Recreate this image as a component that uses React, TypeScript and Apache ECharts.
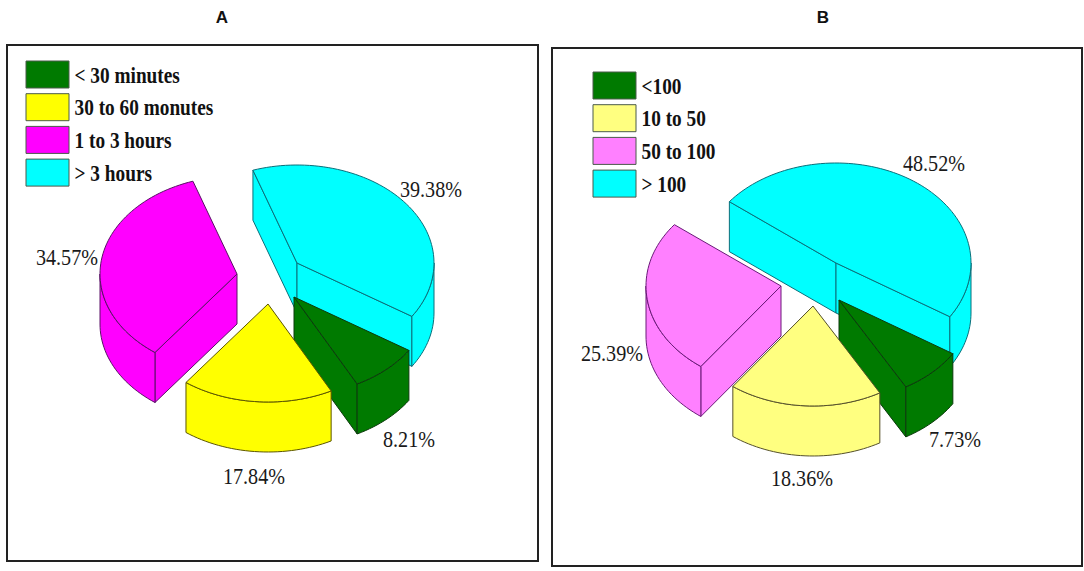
import React, { useEffect, useRef } from "react";
import * as echarts from "echarts";

const namesA = ["< 30 minutes", "30 to 60 monutes", "1 to 3 hours", "> 3 hours"];
const valuesA = [8.21, 17.84, 34.57, 39.38];
const colorsA = ["#007a00", "#ffff00", "#ff00ff", "#00ffff"];
const strokesA = ["#0c3a0c", "#5c5600", "#5a1066", "#0b6f7a"];
const centersA = [[294, 297], [268, 304], [237, 274], [297, 263]];
const labelPosA = [[409, 439], [254, 476], [67, 257], [431, 189]];
const startA = 33;

const namesB = ["<100", "10 to 50", "50 to 100", "> 100"];
const valuesB = [7.73, 18.36, 25.39, 48.52];
const colorsB = ["#007a00", "#ffff80", "#ff80ff", "#00ffff"];
const strokesB = ["#0c3a0c", "#55502a", "#6a1a78", "#0b6f7a"];
const centersB = [[839, 300], [813, 306], [781, 286], [836, 263]];
const labelPosB = [[955, 439], [802, 478], [612, 353], [934, 163]];
const startB = 32.5;

const drawOrder = [3, 2, 0, 1];
const RX_A = 137;
const RX_B = 135;
const RY_A = 98;
const RY_B = 100;
const DEPTH = 50;

function makeSeries(
  values: number[], names: string[], colors: string[], strokes: string[],
  centers: number[][], labels: number[][], start: number, rx: number, ry: number
) {
  const starts: number[] = [];
  let acc = start;
  values.forEach((v) => { starts.push(acc); acc += v * 3.6; });
  const rad = (d: number) => (d * Math.PI) / 180;
  return {
    type: "custom",
    coordinateSystem: "none",
    silent: true,
    data: drawOrder.map((i) => ({ value: values[i], name: names[i] })),
    renderItem: (params: any, api: any) => {
      const i = drawOrder[params.dataIndex];
      const sweep = api.value(0) * 3.6;
      const a0 = starts[i];
      const a1 = a0 + sweep;
      const [cx, cy] = centers[i];
      const pt = (a: number, dz = 0) => [cx + rx * Math.cos(rad(a)), cy + ry * Math.sin(rad(a)) + dz];
      const arc = (from: number, to: number, dz = 0) => {
        const out: number[][] = [];
        const n = Math.max(2, Math.ceil(Math.abs(to - from) / 2));
        for (let k = 0; k <= n; k++) out.push(pt(from + ((to - from) * k) / n, dz));
        return out;
      };
      const style = { fill: colors[i], stroke: strokes[i], lineWidth: 1, lineJoin: "round" };
      const children: any[] = [];
      const radial = (a: number) => {
        const p = pt(a);
        children.push({
          type: "polygon",
          shape: { points: [[cx, cy], p, [p[0], p[1] + DEPTH], [cx, cy + DEPTH]] },
          style,
        });
      };
      if (Math.sin(rad(a0 - 90)) > 0) radial(a0);
      if (Math.sin(rad(a1 + 90)) > 0) radial(a1);
      // outer wall: front half of the ellipse only
      for (const [lo, hi] of [[0, 180], [360, 540]]) {
        const from = Math.max(a0, lo);
        const to = Math.min(a1, hi);
        if (to > from) {
          children.push({
            type: "polygon",
            shape: { points: [...arc(from, to), ...arc(to, from, DEPTH)] },
            style,
          });
        }
      }
      children.push({ type: "polygon", shape: { points: [[cx, cy], ...arc(a0, a1)] }, style });
      children.push({
        type: "text",
        x: labels[i][0],
        y: labels[i][1],
        scaleX: 0.84,
        style: {
          text: api.value(0).toFixed(2) + "%",
          fontFamily: "Liberation Serif",
          fontSize: 24,
          fill: "#1a1a1a",
          align: "center",
          verticalAlign: "middle",
        },
      });
      return { type: "group", children };
    },
  };
}

function legend(names: string[], colors: string[], x: number, y: number) {
  const out: any[] = [];
  names.forEach((n, i) => {
    const top = y + i * 32.7;
    out.push({
      type: "rect",
      shape: { x, y: top, width: 43, height: 27 },
      style: { fill: colors[i], stroke: "#4a5a4a", lineWidth: 1 },
    });
    out.push({
      type: "text",
      x: x + 48.5,
      y: top + 14,
      scaleX: 0.84,
      style: {
        text: n,
        fontFamily: "Liberation Serif",
        fontWeight: "bold",
        fontSize: 23,
        fill: "#111",
        align: "left",
        verticalAlign: "middle",
      },
    });
  });
  return out;
}

function title(t: string, x: number) {
  return {
    type: "text",
    x,
    y: 17,
    style: {
      text: t,
      fontFamily: "Liberation Sans",
      fontWeight: "bold",
      fontSize: 17,
      fill: "#111",
      align: "center",
      verticalAlign: "middle",
    },
  };
}

function frame(x: number, y: number, width: number, height: number) {
  return {
    type: "rect",
    z: -1,
    shape: { x, y, width, height },
    style: { fill: "#fff", stroke: "#222", lineWidth: 2 },
  };
}

export default function App() {
  const ref = useRef<HTMLDivElement>(null);
  useEffect(() => {
    document.body.style.margin = "0";
    const chart = echarts.init(ref.current!, undefined, { renderer: "svg" });
    chart.setOption({
      animation: false,
      backgroundColor: "#fff",
      graphic: [
        frame(7, 45, 531, 516),
        frame(552, 48, 530, 518),
        title("A", 222),
        title("B", 823),
        ...legend(namesA, colorsA, 26, 61),
        ...legend(namesB, colorsB, 593, 72),
      ],
      series: [
        makeSeries(valuesA, namesA, colorsA, strokesA, centersA, labelPosA, startA, RX_A, RY_A),
        makeSeries(valuesB, namesB, colorsB, strokesB, centersB, labelPosB, startB, RX_B, RY_B),
      ],
    });
    return () => chart.dispose();
  }, []);
  return <div ref={ref} style={{ width: 1084, height: 571 }} />;
}
